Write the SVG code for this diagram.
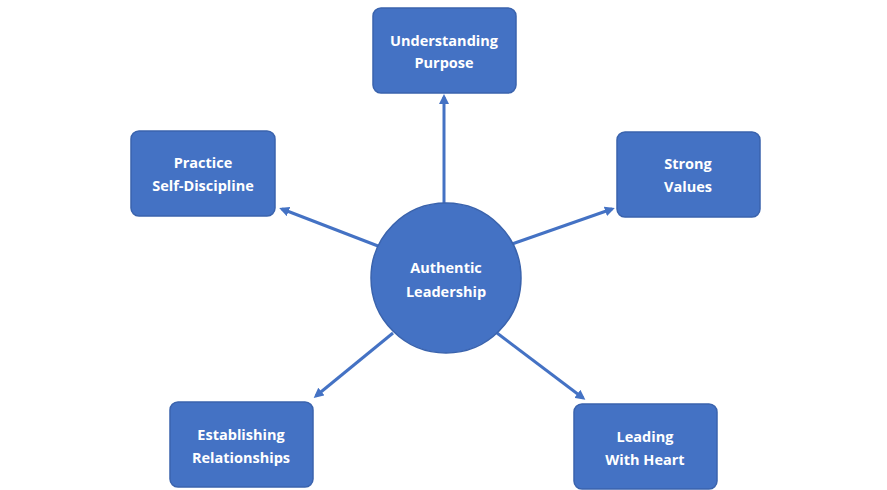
<svg xmlns="http://www.w3.org/2000/svg" width="887" height="490" viewBox="0 0 887 490">
<style>
.n{fill:#4472C4;stroke:#3A63AD;stroke-width:1.5}
.t{fill:#fff;font-family:"Open Sans","Liberation Sans",sans-serif;font-weight:bold;font-size:14.5px;text-anchor:middle}
.c{stroke:#4472C4;stroke-width:3;fill:none;marker-end:url(#a)}
</style>
<defs><marker id="a" markerWidth="10" markerHeight="10" refX="7" refY="5" orient="auto" markerUnits="userSpaceOnUse"><path d="M0,0 L10,5 L0,10 Z" fill="#4472C4"/></marker></defs>
<rect width="887" height="490" fill="#fff"/>
<g id="connectors">
<line class="c" x1="444" y1="203" x2="444" y2="97"/>
<line class="c" x1="378" y1="246" x2="282" y2="209"/>
<line class="c" x1="512" y1="244" x2="612" y2="209"/>
<line class="c" x1="393" y1="333" x2="316" y2="396"/>
<line class="c" x1="497" y1="333" x2="583" y2="398"/>
</g>
<g id="center"><circle class="n" cx="446" cy="278" r="75"/><text class="t" x="446" y="273">Authentic</text><text class="t" x="446" y="297">Leadership</text></g>
<g id="n1"><rect class="n" x="373" y="8" width="143" height="85" rx="8"/><text class="t" x="444" y="46">Understanding</text><text class="t" x="444" y="68">Purpose</text></g>
<g id="n2"><rect class="n" x="131" y="131" width="144" height="85" rx="8"/><text class="t" x="203" y="168">Practice</text><text class="t" x="203" y="191">Self-Discipline</text></g>
<g id="n3"><rect class="n" x="617" y="132" width="143" height="85" rx="8"/><text class="t" x="688" y="169">Strong</text><text class="t" x="688" y="192">Values</text></g>
<g id="n4"><rect class="n" x="170" y="402" width="143" height="85" rx="8"/><text class="t" x="241" y="440">Establishing</text><text class="t" x="241" y="463">Relationships</text></g>
<g id="n5"><rect class="n" x="574" y="404" width="143" height="85" rx="8"/><text class="t" x="645" y="442">Leading</text><text class="t" x="645" y="465">With Heart</text></g>
</svg>
